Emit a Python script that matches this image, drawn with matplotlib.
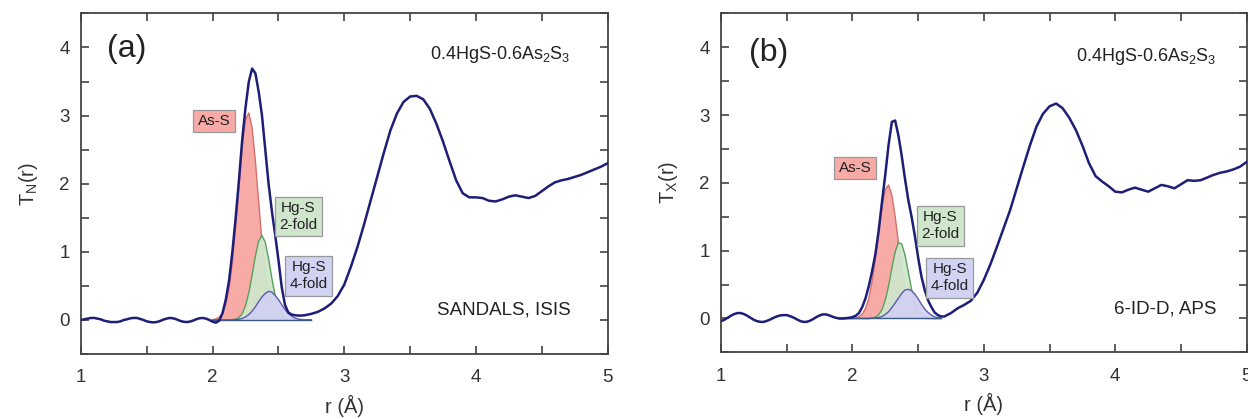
import numpy as np
import matplotlib
matplotlib.use("Agg")
import matplotlib.pyplot as plt

plt.rcParams['font.family'] = ['Liberation Sans', 'DejaVu Sans']

# ---------------- data ----------------
r_total = np.round(np.concatenate([np.arange(1.0, 2.7001, 0.025), np.arange(2.75, 5.0001, 0.05)]), 3)

T_N = [0.00, 0.01, 0.02, 0.03, 0.03, 0.02, 0.01, -0.01, -0.02, -0.03,
       -0.03, -0.03, -0.02, 0.00, 0.01, 0.025, 0.03, 0.03, 0.015, 0.00,
       -0.02, -0.03, -0.035, -0.03, -0.015, 0.005, 0.02, 0.03, 0.025, 0.01,
       -0.01, -0.025, -0.03, -0.025, -0.01, 0.01, 0.025, 0.03, 0.02, 0.00,
       -0.025, -0.04, -0.01, 0.10, 0.30, 0.58, 1.00, 1.50, 2.05, 2.65,
       3.12, 3.50, 3.69, 3.62, 3.35, 3.00, 2.50, 2.00, 1.60, 1.25,
       0.88, 0.48, 0.22, 0.11, 0.08, 0.07, 0.065, 0.065, 0.07,
       0.09, 0.12, 0.17, 0.24, 0.35, 0.52, 0.78, 1.07, 1.40, 1.75,
       2.10, 2.45, 2.78, 3.03, 3.20, 3.28, 3.29, 3.24, 3.10, 2.88,
       2.62, 2.33, 2.05, 1.86, 1.80, 1.80, 1.79, 1.75, 1.74, 1.77,
       1.81, 1.83, 1.81, 1.79, 1.82, 1.89, 1.96, 2.02, 2.05, 2.07,
       2.10, 2.13, 2.17, 2.21, 2.25, 2.30]

T_X = [-0.04, -0.02, 0.01, 0.04, 0.065, 0.08, 0.08, 0.065, 0.04, 0.01,
       -0.02, -0.04, -0.05, -0.05, -0.035, -0.015, 0.01, 0.03, 0.045, 0.05,
       0.05, 0.035, 0.015, -0.01, -0.035, -0.05, -0.05, -0.035, -0.01, 0.02,
       0.045, 0.06, 0.06, 0.045, 0.025, 0.01, 0.00, 0.00, 0.005, 0.01,
       0.02, 0.04, 0.08, 0.17, 0.30, 0.48, 0.70, 0.95, 1.30, 1.72,
       2.12, 2.56, 2.90, 2.92, 2.70, 2.40, 2.06, 1.75, 1.50, 1.22,
       0.90, 0.62, 0.42, 0.27, 0.17, 0.09, 0.05, 0.03, 0.03,
       0.08, 0.15, 0.20, 0.26, 0.38, 0.57, 0.80, 1.06, 1.33, 1.60,
       1.92, 2.24, 2.55, 2.83, 3.02, 3.13, 3.17, 3.10, 2.96, 2.78,
       2.55, 2.29, 2.10, 2.02, 1.95, 1.87, 1.86, 1.90, 1.93, 1.90,
       1.87, 1.92, 1.97, 1.95, 1.92, 1.98, 2.04, 2.03, 2.04, 2.08,
       2.12, 2.15, 2.17, 2.20, 2.24, 2.31]

# fitted components, panel (a)
r_comp_a = np.round(np.arange(2.0, 2.7501, 0.025), 3)
asS_a = [0.005, 0.015, 0.04, 0.10, 0.23, 0.47, 0.85, 1.37, 1.97, 2.55,
         2.94, 3.04, 2.82, 2.33, 1.73, 1.14, 0.68, 0.36, 0.17, 0.073,
         0.028, 0.009, 0.003, 0, 0, 0, 0, 0, 0, 0, 0]
hgs2_a = [0, 0, 0, 0, 0, 0, 0.003, 0.012, 0.036, 0.093,
          0.21, 0.40, 0.66, 0.94, 1.16, 1.24, 1.14, 0.90, 0.61, 0.36,
          0.18, 0.08, 0.03, 0.01, 0.003, 0, 0, 0, 0, 0, 0]
hgs4_a = [0, 0, 0, 0, 0, 0, 0.002, 0.005, 0.01, 0.023,
          0.045, 0.08, 0.13, 0.195, 0.27, 0.34, 0.39, 0.42, 0.41, 0.36,
          0.30, 0.225, 0.155, 0.095, 0.057, 0.03, 0.014, 0.007, 0.003, 0, 0]

# fitted components, panel (b)
r_comp_b = np.round(np.arange(1.9, 2.6751, 0.025), 3)
asS_b = [0, 0, 0, 0, 0.003, 0.01, 0.026, 0.065, 0.15, 0.30,
         0.55, 0.89, 1.27, 1.65, 1.90, 1.97, 1.82, 1.51, 1.12, 0.74,
         0.44, 0.23, 0.11, 0.047, 0.018, 0.006, 0.002, 0, 0, 0, 0, 0]
hgs2_b = [0, 0, 0, 0, 0, 0, 0, 0, 0, 0,
          0.006, 0.02, 0.055, 0.13, 0.27, 0.48, 0.74, 0.98, 1.12, 1.10,
          0.94, 0.69, 0.43, 0.24, 0.11, 0.045, 0.016, 0.005, 0.001, 0, 0, 0]
hgs4_b = [0, 0, 0, 0, 0, 0, 0, 0, 0, 0,
          0.003, 0.007, 0.015, 0.03, 0.058, 0.10, 0.16, 0.23, 0.30, 0.37,
          0.42, 0.43, 0.41, 0.36, 0.29, 0.21, 0.14, 0.09, 0.05, 0.025, 0.012, 0.005]

x_major = [1, 2, 3, 4, 5]
y_major = [0, 1, 2, 3, 4]

# ---------------- style ----------------
LINE = '#1e1e78'
RED_F, RED_E = '#f7aaa6', '#d4706c'
GRN_F, GRN_E = '#cfe6cc', '#5aa05a'
BLU_F, BLU_E = '#d2d2f2', '#5c5ca8'
TXT = '#222222'

fig = plt.figure(figsize=(12.48, 4.19), dpi=100)
ax_a = fig.add_axes([0.0649, 0.155, 0.4219, 0.813])
ax_b = fig.add_axes([0.5777, 0.159, 0.4213, 0.809])


def draw(ax, T, rc, asS, h2, h4, ylabel, tag, tag_pos, form_pos, source, src_pos, lab_pos):
    ax.fill_between(rc, 0, asS, facecolor=RED_F, edgecolor='none', zorder=1)
    ax.plot(rc, asS, color=RED_E, lw=1.0, zorder=1.5)
    ax.fill_between(rc, 0, h2, facecolor=GRN_F, edgecolor='none', alpha=0.95, zorder=2)
    ax.plot(rc, h2, color=GRN_E, lw=1.0, zorder=2.5)
    ax.fill_between(rc, 0, h4, facecolor=BLU_F, edgecolor='none', alpha=0.95, zorder=3)
    ax.plot(rc, h4, color=BLU_E, lw=1.0, zorder=3.5)
    ax.plot([rc[0], rc[-1]], [0, 0], color='#3a5a8a', lw=1.0, zorder=3.6)
    ax.plot(r_total, T, color=LINE, lw=1.8, zorder=5, solid_joinstyle='round')

    ax.set_xlim(1, 5)
    ax.set_ylim(-0.5, 4.5)
    xt = np.arange(1, 5.01, 0.5)
    yt = np.arange(-0.5, 4.51, 0.5)
    ax.set_xticks(xt)
    ax.set_xticklabels([str(int(v)) if int(v) in x_major and float(v).is_integer() else '' for v in xt])
    ax.set_yticks(yt)
    ax.set_yticklabels([str(int(v)) if float(v).is_integer() and int(v) in y_major else '' for v in yt])
    ax.tick_params(direction='in', length=6, width=1.1, top=True, right=True,
                   labelsize=13.5, colors='#333333')
    ax.tick_params(axis='x', pad=11)
    ax.tick_params(axis='y', pad=8)
    for s in ax.spines.values():
        s.set_color('#444444')
        s.set_linewidth(1.3)
    ax.set_xlabel('r (Å)', fontsize=14.5, color='#333333', labelpad=6)
    ax.set_ylabel(ylabel, fontsize=14.5, color='#333333', labelpad=14)

    ax.text(tag_pos[0], tag_pos[1], tag, fontsize=23, ha='center', va='center', color=TXT)
    ax.text(form_pos[0], form_pos[1], r'0.4HgS-0.6As$_\mathregular{2}$S$_\mathregular{3}$',
            fontsize=13, ha='right', va='center', color=TXT)
    ax.text(src_pos[0], src_pos[1], source, fontsize=13.5, ha='right', va='center', color=TXT)

    (p1, p2, p3) = lab_pos
    box = dict(boxstyle='square,pad=0.28', lw=0.9, ec='#999999')
    ax.text(p1[0], p1[1], 'As-S', fontsize=11, ha='center', va='center', color=TXT,
            bbox=dict(box, fc=RED_F), zorder=6)
    ax.text(p2[0], p2[1], 'Hg-S\n2-fold', fontsize=11, ha='center', va='center', color=TXT,
            linespacing=1.3, bbox=dict(box, fc=GRN_F), zorder=6)
    ax.text(p3[0], p3[1], 'Hg-S\n4-fold', fontsize=11, ha='center', va='center', color=TXT,
            linespacing=1.3, bbox=dict(box, fc=BLU_F), zorder=6)


draw(ax_a, T_N, r_comp_a, asS_a, hgs2_a, hgs4_a, r'T$_\mathregular{N}$(r)', '(a)', (1.35, 3.98),
     (4.72, 3.89), 'SANDALS, ISIS', (4.72, 0.14),
     [(2.01, 2.92), (2.65, 1.52), (2.73, 0.65)])
draw(ax_b, T_X, r_comp_b, asS_b, hgs2_b, hgs4_b, r'T$_\mathregular{X}$(r)', '(b)', (1.36, 3.92),
     (4.77, 3.86), '6-ID-D, APS', (4.77, 0.14),
     [(2.02, 2.22), (2.67, 1.37), (2.74, 0.60)])

fig.savefig('out.png', dpi=100)
